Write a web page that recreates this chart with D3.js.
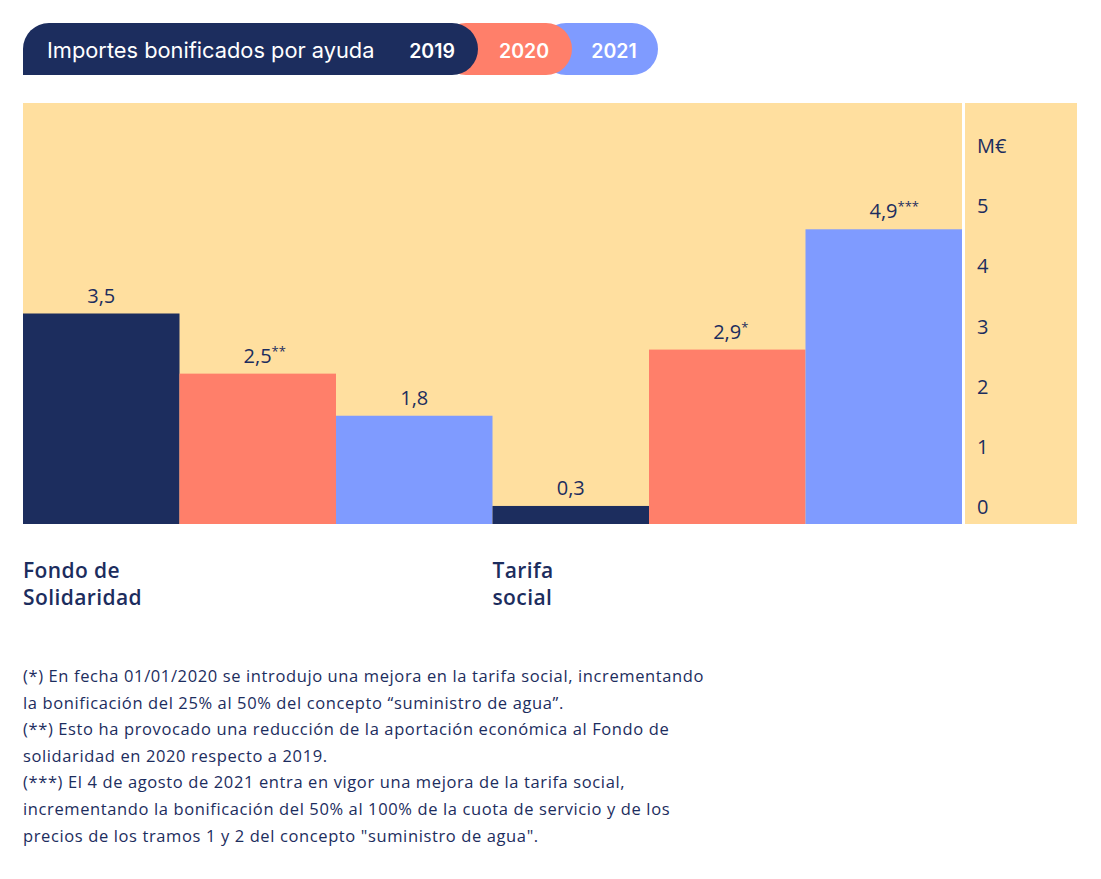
<!DOCTYPE html>
<html>
<head>
<meta charset="utf-8">
<script src="https://cdn.jsdelivr.net/npm/d3@7"></script>
<style>
  body { margin: 0; background: #fff; }
  text { font-family: Lato, "Noto Sans", sans-serif; }
</style>
</head>
<body>
<svg id="chart" width="1101" height="879"></svg>
<script>
const categories = [['Fondo de', 'Solidaridad'], ['Tarifa', 'social']];
const years = ['2019', '2020', '2021'];
const values = [
  [3.5, 2.5, 1.8],
  [0.3, 2.9, 4.9],
];
const labels = [
  ['3,5', '2,5', '1,8'],
  ['0,3', '2,9', '4,9'],
];
const marks = [
  ['', '**', ''],
  ['', '*', '***'],
];
const ticks = [0, 1, 2, 3, 4, 5];
const notes = [
  '(*) En fecha 01/01/2020 se introdujo una mejora en la tarifa social, incrementando',
  'la bonificación del 25% al 50% del concepto “suministro de agua”.',
  '(**) Esto ha provocado una reducción de la aportación económica al Fondo de',
  'solidaridad en 2020 respecto a 2019.',
  '(***) El 4 de agosto de 2021 entra en vigor una mejora de la tarifa social,',
  'incrementando la bonificación del 50% al 100% de la cuota de servicio y de los',
  'precios de los tramos 1 y 2 del concepto "suministro de agua".',
];

const navy = '#1c2d5e';
const color = d3.scaleOrdinal().domain(years).range([navy, '#ff7f6a', '#7f9bff']);
const yellow = '#ffdf9f';

const svg = d3.select('#chart');

// header pill
const header = svg.append('g');
const pills = [
  {year: '2021', x0: 540, x1: 658},
  {year: '2020', x0: 440, x1: 572},
];
pills.forEach((p) => {
  header.append('rect')
      .attr('x', p.x0).attr('y', 23)
      .attr('width', p.x1 - p.x0).attr('height', 52)
      .attr('rx', 26)
      .attr('fill', color(p.year));
});
header.append('path')
    .attr('d', 'M23,75 L23,49 A26,26 0 0 1 49,23 L452,23 A26,26 0 0 1 452,75 Z')
    .attr('fill', navy);
header.append('text')
    .attr('x', 47).attr('y', 58)
    .attr('fill', '#fff')
    .style('font-family', 'Inter, sans-serif')
    .style('font-size', '21.8px')
    .text('Importes bonificados por ayuda');
[['2019', 432], ['2020', 524], ['2021', 614]].forEach(([t, x]) => {
  header.append('text')
      .attr('x', x).attr('y', 58)
      .attr('text-anchor', 'middle')
      .attr('fill', '#fff')
      .style('font-family', 'Inter, sans-serif')
      .style('font-weight', 600)
      .style('font-size', '19.5px')
      .text(t);
});

// plot area
const plotLeft = 23;
const plotRight = 962;
const plotTop = 103;
const plotBottom = 524;

svg.append('rect')
    .attr('x', plotLeft).attr('y', plotTop)
    .attr('width', plotRight - plotLeft).attr('height', plotBottom - plotTop)
    .attr('fill', yellow);
svg.append('rect')
    .attr('x', 965).attr('y', plotTop)
    .attr('width', 112).attr('height', plotBottom - plotTop)
    .attr('fill', yellow);

const x0 = d3.scaleBand().domain(d3.range(categories.length)).range([plotLeft, plotRight]);
const x1 = d3.scaleBand().domain(years).range([0, x0.bandwidth()]);
const y = d3.scaleLinear().domain([0, 7]).range([plotBottom, plotTop]);

const rows = (d, i) => d.map((v, j) => ({v: v, year: years[j], label: labels[i][j], mark: marks[i][j]}));

const groups = svg.append('g').selectAll('g')
    .data(values)
    .join('g')
    .attr('transform', (d, i) => 'translate(' + x0(i) + ',0)');

groups.selectAll('rect')
    .data(rows)
    .join('rect')
    .attr('x', (d) => x1(d.year))
    .attr('y', (d) => y(d.v))
    .attr('width', x1.bandwidth())
    .attr('height', (d) => y(0) - y(d.v))
    .attr('fill', (d) => color(d.year));

const lbl = groups.selectAll('text.val')
    .data(rows)
    .join('text')
    .attr('class', 'val')
    .attr('x', (d) => x1(d.year) + x1.bandwidth() / 2 + (d.mark ? d.mark.length * 3.5 : 0))
    .attr('y', (d) => y(d.v) - 11)
    .attr('text-anchor', 'middle')
    .attr('fill', navy)
    .style('font-family', '"Open Sans", sans-serif')
    .style('font-size', '20px')
    .style('font-weight', 500);
lbl.append('tspan').text((d) => d.label);
lbl.append('tspan')
    .attr('dy', -7)
    .style('font-size', '13px')
    .text((d) => d.mark);

// category labels
const catText = svg.append('g').selectAll('text')
    .data(categories)
    .join('text')
    .attr('x', (d, i) => x0(i))
    .attr('y', 578)
    .attr('fill', navy)
    .style('font-family', '"Open Sans", sans-serif')
    .style('font-size', '21px')
    .style('font-weight', 600)
    .style('letter-spacing', '0.4px');
catText.each(function(d, i) {
  d3.select(this).selectAll('tspan')
      .data(d)
      .join('tspan')
      .attr('x', x0(i))
      .attr('dy', (t, k) => k ? 27 : 0)
      .text((t) => t);
});

// y axis labels
const axis = svg.append('g').attr('transform', 'translate(977,0)');
axis.selectAll('text')
    .data(ticks)
    .join('text')
    .attr('x', 0)
    .attr('y', (d) => y(d) - 10)
    .attr('fill', navy)
    .style('font-family', '"Open Sans", sans-serif')
    .style('font-size', '20px')
    .text((d) => d);
axis.append('text')
    .attr('x', 0)
    .attr('y', y(6) - 10)
    .attr('fill', navy)
    .style('font-family', '"Open Sans", sans-serif')
    .style('font-size', '20px')
    .text('M€');

// footnotes
svg.append('g').selectAll('text')
    .data(notes)
    .join('text')
    .attr('x', 23)
    .attr('y', (d, i) => 682 + i * 26.6)
    .attr('fill', navy)
    .style('font-family', '"Open Sans", sans-serif')
    .style('font-size', '16.5px')
    .style('letter-spacing', '0.62px')
    .text((d) => d);
</script>
</body>
</html>
